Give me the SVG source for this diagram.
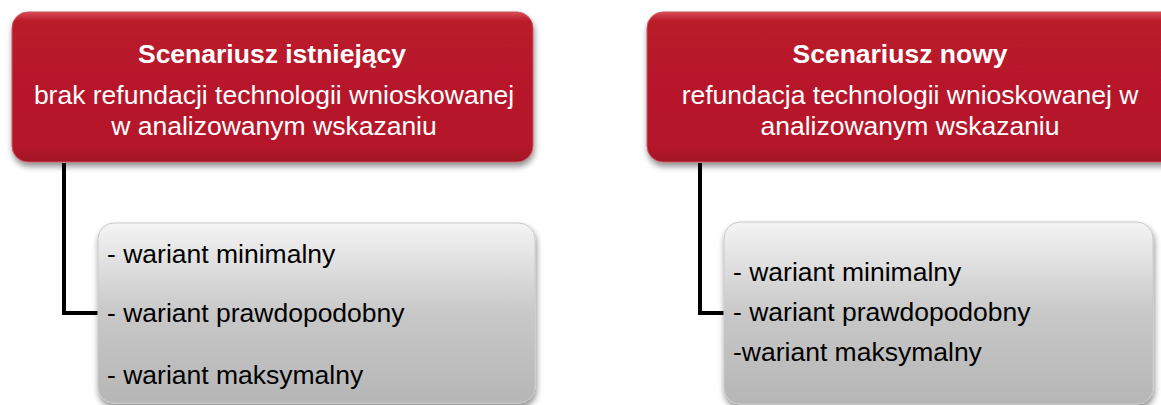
<svg xmlns="http://www.w3.org/2000/svg" width="1161" height="405" viewBox="0 0 1161 405">
<defs>
<linearGradient id="red" x1="0" y1="0" x2="0" y2="1">
<stop offset="0" stop-color="#d84a55"/>
<stop offset="0.06" stop-color="#ba1a2b"/>
<stop offset="0.9" stop-color="#b51829"/>
<stop offset="1" stop-color="#a01424"/>
</linearGradient>
<linearGradient id="gray" x1="0" y1="0" x2="0" y2="1">
<stop offset="0" stop-color="#f4f4f4"/>
<stop offset="0.5" stop-color="#c8c8c8"/>
<stop offset="1" stop-color="#b6b6b6"/>
</linearGradient>
<filter id="sh" x="-5%" y="-10%" width="110%" height="130%">
<feGaussianBlur in="SourceAlpha" stdDeviation="3"/>
<feOffset dx="1" dy="4" result="b"/>
<feComponentTransfer><feFuncA type="linear" slope="0.45"/></feComponentTransfer>
<feMerge><feMergeNode/><feMergeNode in="SourceGraphic"/></feMerge>
</filter>
</defs>
<style>
.red{fill:url(#red);stroke:#c9575f;stroke-width:1}
.gray{fill:url(#gray);stroke:#c8c8c8;stroke-width:1}
.t{font-family:"Liberation Sans",Arial,sans-serif;font-size:26.5px;fill:#ffffff;text-anchor:middle}
.b{font-weight:bold}
.g{font-family:"Liberation Sans",Arial,sans-serif;font-size:26.5px;fill:#000000}
.c{fill:none;stroke:#000000;stroke-width:4}
</style>
<g id="connectors">
<path class="c" d="M64,163 V313 H100"/>
<path class="c" d="M700,163 V313 H726"/>
</g>
<g id="node-existing">
<rect class="red" x="12" y="12" width="521" height="150" rx="16" filter="url(#sh)"/>
<text class="t b" x="272" y="63">Scenariusz istniejący</text>
<text class="t" x="274" y="104">brak refundacji technologii wnioskowanej</text>
<text class="t" x="274" y="135">w analizowanym wskazaniu</text>
</g>
<g id="node-new">
<rect class="red" x="647" y="12" width="530" height="150" rx="16" filter="url(#sh)"/>
<text class="t b" x="900" y="63">Scenariusz nowy</text>
<text class="t" x="910" y="104">refundacja technologii wnioskowanej w</text>
<text class="t" x="910" y="135">analizowanym wskazaniu</text>
</g>
<g id="node-existing-variants">
<rect class="gray" x="98" y="223" width="437" height="180" rx="16" filter="url(#sh)"/>
<text class="g" x="107" y="263">- wariant minimalny</text>
<text class="g" x="107" y="322">- wariant prawdopodobny</text>
<text class="g" x="107" y="384">- wariant maksymalny</text>
</g>
<g id="node-new-variants">
<rect class="gray" x="724" y="222" width="429" height="182" rx="16" filter="url(#sh)"/>
<text class="g" x="733" y="281">- wariant minimalny</text>
<text class="g" x="733" y="321">- wariant prawdopodobny</text>
<text class="g" x="733" y="361">-wariant maksymalny</text>
</g>
</svg>
